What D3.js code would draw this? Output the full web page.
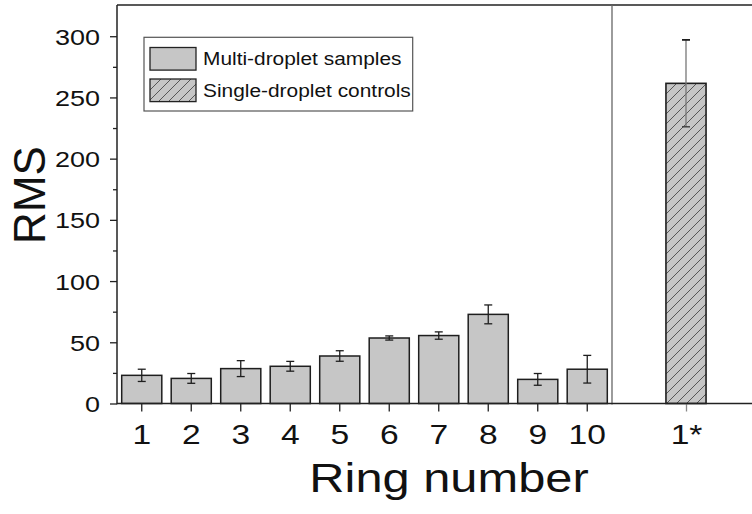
<!DOCTYPE html>
<html><head><meta charset="utf-8">
<script src="https://cdn.jsdelivr.net/npm/d3@7"></script>
<style>html,body{margin:0;padding:0;background:#fff;}svg{display:block;}</style>
</head><body>
<script>
// ---- data ----
const rings = ["1","2","3","4","5","6","7","8","9","10"];
const multiValues = [23, 20.5, 28.5, 30.4, 38.8, 53.5, 55.5, 72.8, 19.7, 28];
const multiErrors = [5, 4, 6.5, 4, 4.3, 1.7, 3, 7.7, 4.8, 11.3];
const controlCats = ["1*"];
const controlValues = [261.5];
const controlErrors = [35.5];
const yTicks = [0, 50, 100, 150, 200, 250, 300];
const yMinorTicks = [25, 75, 125, 175, 225, 275];
const legendLabels = ["Multi-droplet samples", "Single-droplet controls"];

const W = 752, H = 514;
const FONT = "'Liberation Sans', Arial, Helvetica, sans-serif";
const svg = d3.select("body").append("svg").attr("width", W).attr("height", H);

const defs = svg.append("defs");
const pat = defs.append("pattern").attr("id","hatch").attr("patternUnits","userSpaceOnUse")
  .attr("width",10).attr("height",10);
pat.append("rect").attr("width",10).attr("height",10).attr("fill","#c6c6c6");
pat.append("path").attr("d","M-2,12 L12,-2 M-7,7 L7,-7 M3,17 L17,3")
  .attr("stroke","#3a3a3a").attr("stroke-width",0.8);

const plotLeft = 117, plotTop = 5, plotBottom = 403.5, sepX = 612, rightEnd = 760;
const y = d3.scaleLinear().domain([0, 325.5]).range([plotBottom, plotTop]);
const xL = d3.scaleBand().domain(rings).range([plotLeft, sepX]).paddingInner(0.19).paddingOuter(0.095);
const xR = d3.scalePoint().domain(controlCats).range([sepX, rightEnd]).padding(0.5);
const bw = xL.bandwidth();
const SX = 1.2;

// frame lines
svg.append("line").attr("x1",plotLeft).attr("x2",W).attr("y1",plotTop).attr("y2",plotTop)
  .attr("stroke","#222").attr("stroke-width",1.3);
svg.append("line").attr("x1",sepX).attr("x2",sepX).attr("y1",plotTop).attr("y2",plotBottom+1)
  .attr("stroke","#666").attr("stroke-width",1.3);

// bars left
const gL = svg.append("g");
gL.selectAll("rect").data(rings).join("rect")
  .attr("x", d => xL(d)).attr("width", bw)
  .attr("y", (d,i) => y(multiValues[i])).attr("height", (d,i) => y(0) - y(multiValues[i]))
  .attr("fill","#c6c6c6").attr("stroke","#1e1e1e").attr("stroke-width",1.5);
const eb = gL.selectAll("g.eb").data(rings).join("g").attr("class","eb")
  .attr("stroke","#1e1e1e").attr("stroke-width",1.3);
eb.append("line").attr("x1", d => xL(d)+bw/2).attr("x2", d => xL(d)+bw/2)
  .attr("y1",(d,i)=>y(multiValues[i]+multiErrors[i])).attr("y2",(d,i)=>y(multiValues[i]-multiErrors[i]));
eb.append("line").attr("x1", d => xL(d)+bw/2-4).attr("x2", d => xL(d)+bw/2+4)
  .attr("y1",(d,i)=>y(multiValues[i]+multiErrors[i])).attr("y2",(d,i)=>y(multiValues[i]+multiErrors[i]));
eb.append("line").attr("x1", d => xL(d)+bw/2-4).attr("x2", d => xL(d)+bw/2+4)
  .attr("y1",(d,i)=>y(multiValues[i]-multiErrors[i])).attr("y2",(d,i)=>y(multiValues[i]-multiErrors[i]));

// bars right
const gR = svg.append("g");
gR.selectAll("rect").data(controlCats).join("rect")
  .attr("x", d => xR(d)-bw/2).attr("width", bw)
  .attr("y", (d,i) => y(controlValues[i])).attr("height", (d,i) => y(0) - y(controlValues[i]))
  .attr("fill","url(#hatch)").attr("stroke","#1e1e1e").attr("stroke-width",1.6);
const ebR = gR.selectAll("g.eb").data(controlCats).join("g").attr("class","eb");
ebR.append("line").attr("x1", d => xR(d)).attr("x2", d => xR(d))
  .attr("y1",(d,i)=>y(controlValues[i]+controlErrors[i])).attr("y2",(d,i)=>y(controlValues[i]-controlErrors[i]))
  .attr("stroke","#777").attr("stroke-width",1.3);
ebR.append("line").attr("x1", d => xR(d)-4).attr("x2", d => xR(d)+4)
  .attr("y1",(d,i)=>y(controlValues[i]+controlErrors[i])).attr("y2",(d,i)=>y(controlValues[i]+controlErrors[i]))
  .attr("stroke","#1e1e1e").attr("stroke-width",1.8);
ebR.append("line").attr("x1", d => xR(d)-4).attr("x2", d => xR(d)+4)
  .attr("y1",(d,i)=>y(controlValues[i]-controlErrors[i])).attr("y2",(d,i)=>y(controlValues[i]-controlErrors[i]))
  .attr("stroke","#333").attr("stroke-width",1.3);

// y axis
const yAx = svg.append("g").attr("transform",`translate(${plotLeft},0)`)
  .call(d3.axisLeft(y).tickValues(yTicks).tickSize(7).tickSizeOuter(0));
yAx.select(".domain").remove();
yAx.selectAll(".tick line").attr("stroke","#222").attr("stroke-width",1.3);
yAx.selectAll(".tick text").attr("x",null).attr("dy",null)
  .attr("transform",`translate(-17,8) scale(${SX},1)`)
  .attr("font-family",FONT).attr("font-size",22.5).attr("fill","#111").attr("text-anchor","end");
const yMin = svg.append("g").attr("transform",`translate(${plotLeft},0)`)
  .call(d3.axisLeft(y).tickValues(yMinorTicks).tickSize(4).tickFormat(""));
yMin.select(".domain").remove();
yMin.selectAll(".tick line").attr("stroke","#222").attr("stroke-width",1.3);
svg.append("line").attr("x1",plotLeft).attr("x2",plotLeft).attr("y1",plotTop).attr("y2",plotBottom+0.7)
  .attr("stroke","#222").attr("stroke-width",1.5);

// x axes
function styleX(g){
  g.select(".domain").remove();
  g.selectAll(".tick text").attr("y",null).attr("dy",null)
    .attr("transform",`translate(0,40) scale(${SX},1)`)
    .attr("font-family",FONT).attr("font-size",28).attr("fill","#111");
}
const xAxL = svg.append("g").attr("transform",`translate(0,${plotBottom})`)
  .call(d3.axisBottom(xL).tickSize(8).tickSizeOuter(0));
xAxL.selectAll(".tick line").attr("stroke","#222").attr("stroke-width",1.3);
styleX(xAxL);
const xAxR = svg.append("g").attr("transform",`translate(0,${plotBottom})`)
  .call(d3.axisBottom(xR).tickSize(8).tickSizeOuter(0));
xAxR.selectAll(".tick line").attr("stroke","#888").attr("stroke-width",1.3);
styleX(xAxR);
svg.append("line").attr("x1",plotLeft).attr("x2",W).attr("y1",plotBottom).attr("y2",plotBottom)
  .attr("stroke","#222").attr("stroke-width",1.5);

// axis titles
svg.append("text").attr("transform",`translate(449,492) scale(1.22,1)`)
  .attr("text-anchor","middle").attr("font-family",FONT).attr("font-size",40).attr("fill","#111")
  .text("Ring number");
svg.append("text").attr("transform",`translate(45,195) rotate(-90)`)
  .attr("text-anchor","middle").attr("font-family",FONT).attr("font-size",44).attr("fill","#111")
  .text("RMS");

// legend
const lg = svg.append("g");
lg.append("rect").attr("x",144).attr("y",37.3).attr("width",268.7).attr("height",73.7)
  .attr("fill","#fff").attr("stroke","#555").attr("stroke-width",1.2);
const fills = ["#c6c6c6","url(#hatch)"];
legendLabels.forEach((lab,i) => {
  const cy = 58.8 + i*31.5;
  lg.append("rect").attr("x",150).attr("y",cy-11.3).attr("width",46).attr("height",22.6)
    .attr("fill",fills[i]).attr("stroke","#222").attr("stroke-width",1.3);
  lg.append("text").attr("transform",`translate(203,${cy+6.5}) scale(1.13,1)`)
    .attr("font-family",FONT).attr("font-size",18.5).attr("fill","#111").text(lab);
});
</script>
</body></html>
